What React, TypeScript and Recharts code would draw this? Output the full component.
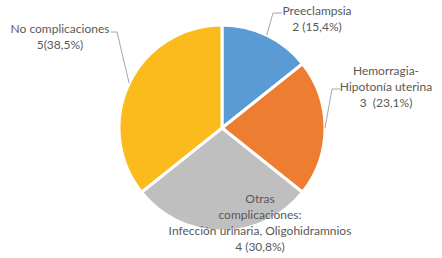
import { PieChart, Pie, Cell } from 'recharts';

const categories = [
  'Preeclampsia',
  'Hemorragia-Hipotonía uterina',
  'Otras complicaciones: Infección urinaria, Oligohidramnios',
  'No complicaciones',
];
const counts = [2, 3, 4, 5];
const nameLines = [
  ['Preeclampsia'],
  ['Hemorragia-', 'Hipotonía uterina'],
  ['Otras', 'complicaciones:', 'Infección urinaria, Oligohidramnios'],
  ['No complicaciones'],
];
const valueLabels = ['2 (15,4%)', '3  (23,1%)', '4 (30,8%)', '5(38,5%)'];
const colors = ['#5b9bd5', '#ed7d31', '#bfbfbf', '#fbbb1c'];

// where each label block sits (center x, first line y) and its leader elbow/end
const labelLayout = [
  { x: 317, y: 10, leader: [[273, 13], [282, 13]] },
  { x: 386, y: 70, leader: [[332, 89], [340, 89]] },
  { x: 260, y: 198, leader: null },
  { x: 60, y: 28, leader: [[117, 32], [111, 32]] },
];

const data = categories.map((name, i) => ({ name, value: counts[i] }));

const RAD = Math.PI / 180;
const LINE_H = 16;

function renderLabel(props: any) {
  const { cx, cy, midAngle, outerRadius, index } = props;
  const lay = labelLayout[index];
  const lines = [...nameLines[index], valueLabels[index]];
  const ex = cx + outerRadius * Math.cos(-midAngle * RAD);
  const ey = cy + outerRadius * Math.sin(-midAngle * RAD);
  return (
    <g key={`lbl-${index}`}>
      {lay.leader && (
        <polyline
          points={[[ex, ey], ...lay.leader].map((p) => p.join(',')).join(' ')}
          fill="none"
          stroke="#a6a6a6"
          strokeWidth={1}
        />
      )}
      <text
        x={lay.x}
        y={lay.y}
        textAnchor="middle"
        fill="#595959"
        fontSize={12}
        fontFamily="Lato, 'Noto Sans', sans-serif"
        style={{ whiteSpace: 'pre' }}
      >
        {lines.map((l, k) => (
          <tspan key={k} x={lay.x} y={lay.y + k * LINE_H} dominantBaseline="central">
            {l}
          </tspan>
        ))}
      </text>
    </g>
  );
}

export default function App() {
  return (
    <div style={{ position: 'absolute', left: 0, top: 0, background: '#fff' }}>
      <PieChart width={442} height={258}>
        <Pie
          data={data}
          dataKey="value"
          nameKey="name"
          cx={217}
          cy={123}
          outerRadius={103}
          startAngle={90}
          endAngle={-270}
          stroke="#ffffff"
          strokeWidth={3}
          label={renderLabel}
          labelLine={false}
          isAnimationActive={false}
        >
          {data.map((d, i) => (
            <Cell key={d.name} fill={colors[i]} />
          ))}
        </Pie>
      </PieChart>
    </div>
  );
}
